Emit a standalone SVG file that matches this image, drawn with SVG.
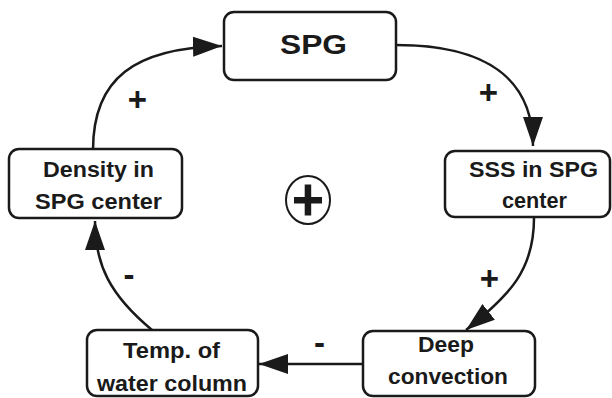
<svg xmlns="http://www.w3.org/2000/svg" width="612" height="398" viewBox="0 0 612 398">
<defs>
<style>
.box{fill:#fff;stroke:#1a1a1a;stroke-width:2.5}
.lbl{font-family:"Liberation Sans",Arial,sans-serif;font-weight:bold;fill:#1a1a1a;text-anchor:middle}
.t{font-size:22.5px}
.big{font-size:27px}
.sign{font-size:33px}
.edge{fill:none;stroke:#1a1a1a;stroke-width:2.5}
</style>
<marker id="arr" markerUnits="userSpaceOnUse" markerWidth="32" markerHeight="22" refX="29" refY="10" orient="auto">
<path d="M0,0 L29,10 L0,20 z" fill="#1a1a1a"/>
</marker>
</defs>
<rect width="612" height="398" fill="#fff"/>
<g id="connectors">
<path class="edge" d="M93,150 C93,78 135,48 222,46" marker-end="url(#arr)"/>
<path class="edge" d="M396,45 C488,45 533,80 533,146" marker-end="url(#arr)"/>
<path class="edge" d="M534,218 C534,270 510,295 466,330" marker-end="url(#arr)"/>
<path class="edge" d="M363,364 L259,364" marker-end="url(#arr)"/>
<path class="edge" d="M152,330 C110,295 95,265 95,221" marker-end="url(#arr)"/>
<text class="lbl sign" x="137.5" y="110.5">+</text>
<text class="lbl sign" x="488.5" y="104">+</text>
<text class="lbl sign" x="489.5" y="289.5">+</text>
<text class="lbl sign" x="129" y="286">-</text>
<text class="lbl sign" x="319.5" y="354">-</text>
</g>
<g id="spg">
<rect class="box" x="224" y="12" width="172" height="68" rx="10"/>
<text class="lbl big" x="313.5" y="54" textLength="67" lengthAdjust="spacingAndGlyphs">SPG</text>
</g>
<g id="sss">
<rect class="box" x="445" y="151" width="165" height="66" rx="10"/>
<text class="lbl t" x="533.5" y="177" textLength="129" lengthAdjust="spacingAndGlyphs">SSS in SPG</text>
<text class="lbl t" x="534.5" y="208" textLength="65" lengthAdjust="spacingAndGlyphs">center</text>
</g>
<g id="deep">
<rect class="box" x="363" y="331" width="172" height="65" rx="10"/>
<text class="lbl t" x="446" y="352" textLength="56" lengthAdjust="spacingAndGlyphs">Deep</text>
<text class="lbl t" x="448" y="384" textLength="120" lengthAdjust="spacingAndGlyphs">convection</text>
</g>
<g id="temp">
<rect class="box" x="87" y="330" width="171" height="66" rx="10"/>
<text class="lbl t" x="171.5" y="358" textLength="97" lengthAdjust="spacingAndGlyphs">Temp. of</text>
<text class="lbl t" x="172" y="391" textLength="150" lengthAdjust="spacingAndGlyphs">water column</text>
</g>
<g id="density">
<rect class="box" x="9" y="149" width="173" height="69" rx="10"/>
<text class="lbl t" x="98.5" y="177" textLength="111" lengthAdjust="spacingAndGlyphs">Density in</text>
<text class="lbl t" x="98.5" y="209" textLength="127" lengthAdjust="spacingAndGlyphs">SPG center</text>
</g>
<g id="loop-sign">
<ellipse cx="308" cy="200" rx="22" ry="24" fill="none" stroke="#1a1a1a" stroke-width="2"/>
<rect x="294" y="197" width="28" height="6.5" fill="#1a1a1a"/>
<rect x="304.7" y="184.5" width="6.5" height="31" fill="#1a1a1a"/>
</g>
</svg>
